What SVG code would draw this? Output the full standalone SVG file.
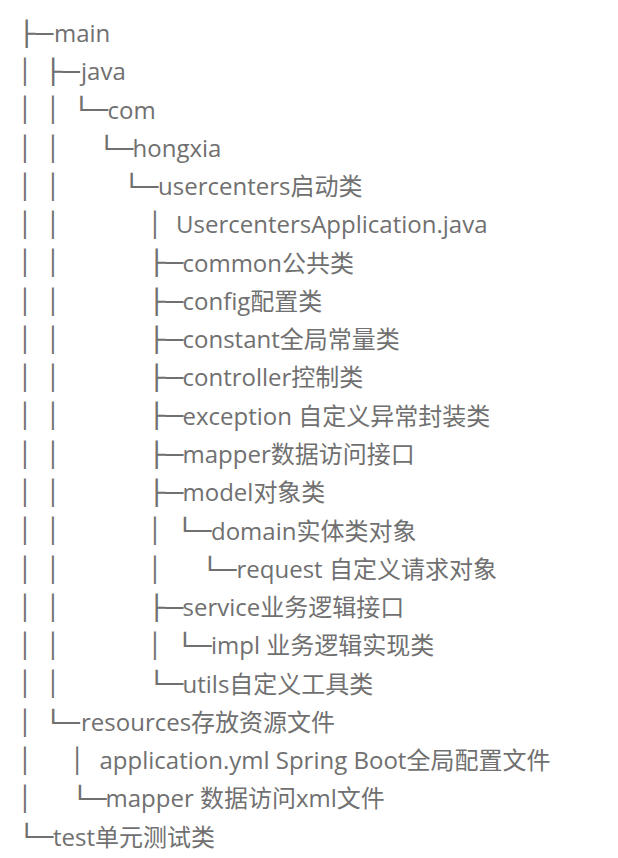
<svg xmlns="http://www.w3.org/2000/svg" width="618" height="858" viewBox="0 0 618 858">
<style>
.t{font-family:"Open Sans","Noto Sans CJK SC",sans-serif;font-size:24px;fill:#707070}
.c{font-family:"DejaVu Sans Mono",monospace;font-size:24px;fill:#707070}
</style>
<rect width="618" height="858" fill="#ffffff"/>
<g id="connectors" class="c">
<text x="17.9" y="41.7" textLength="35.07" lengthAdjust="spacingAndGlyphs">├─</text>
<text x="17.8" y="80">│</text><text x="44.5" y="80" textLength="35.07" lengthAdjust="spacingAndGlyphs">├─</text>
<text x="17.8" y="118.2">│</text><text x="45.8" y="118.2">│</text><text x="72.7" y="118.2" textLength="35.07" lengthAdjust="spacingAndGlyphs">└─</text>
<text x="17.8" y="156.5">│</text><text x="45.8" y="156.5">│</text><text x="97.9" y="156.5" textLength="35.07" lengthAdjust="spacingAndGlyphs">└─</text>
<text x="17.8" y="194.8">│</text><text x="45.8" y="194.8">│</text><text x="122.9" y="194.8" textLength="35.07" lengthAdjust="spacingAndGlyphs">└─</text>
<text x="17.8" y="233.1">│</text><text x="45.8" y="233.1">│</text><text x="147.8" y="233.1">│</text>
<text x="17.8" y="271.3">│</text><text x="45.8" y="271.3">│</text><text x="147.9" y="271.3" textLength="35.07" lengthAdjust="spacingAndGlyphs">├─</text>
<text x="17.8" y="309.6">│</text><text x="45.8" y="309.6">│</text><text x="147.9" y="309.6" textLength="35.07" lengthAdjust="spacingAndGlyphs">├─</text>
<text x="17.8" y="347.9">│</text><text x="45.8" y="347.9">│</text><text x="147.9" y="347.9" textLength="35.07" lengthAdjust="spacingAndGlyphs">├─</text>
<text x="17.8" y="386.1">│</text><text x="45.8" y="386.1">│</text><text x="147.9" y="386.1" textLength="35.07" lengthAdjust="spacingAndGlyphs">├─</text>
<text x="17.8" y="424.4">│</text><text x="45.8" y="424.4">│</text><text x="147.9" y="424.4" textLength="35.07" lengthAdjust="spacingAndGlyphs">├─</text>
<text x="17.8" y="462.7">│</text><text x="45.8" y="462.7">│</text><text x="147.9" y="462.7" textLength="35.07" lengthAdjust="spacingAndGlyphs">├─</text>
<text x="17.8" y="500.9">│</text><text x="45.8" y="500.9">│</text><text x="147.9" y="500.9" textLength="35.07" lengthAdjust="spacingAndGlyphs">├─</text>
<text x="17.8" y="539.2">│</text><text x="45.8" y="539.2">│</text><text x="147.8" y="539.2">│</text><text x="176.2" y="539.2" textLength="35.07" lengthAdjust="spacingAndGlyphs">└─</text>
<text x="17.8" y="577.5">│</text><text x="45.8" y="577.5">│</text><text x="147.8" y="577.5">│</text><text x="201.2" y="577.5" textLength="35.07" lengthAdjust="spacingAndGlyphs">└─</text>
<text x="17.8" y="615.8">│</text><text x="45.8" y="615.8">│</text><text x="147.9" y="615.8" textLength="35.07" lengthAdjust="spacingAndGlyphs">├─</text>
<text x="17.8" y="654">│</text><text x="45.8" y="654">│</text><text x="147.8" y="654">│</text><text x="176.2" y="654" textLength="35.07" lengthAdjust="spacingAndGlyphs">└─</text>
<text x="17.8" y="692.3">│</text><text x="45.8" y="692.3">│</text><text x="147.9" y="692.3" textLength="35.07" lengthAdjust="spacingAndGlyphs">└─</text>
<text x="17.8" y="730.6">│</text><text x="44.5" y="730.6" textLength="35.07" lengthAdjust="spacingAndGlyphs">└─</text>
<text x="17.8" y="768.8">│</text><text x="70.1" y="768.8">│</text>
<text x="17.8" y="807.1">│</text><text x="71.2" y="807.1" textLength="35.07" lengthAdjust="spacingAndGlyphs">└─</text>
<text x="17.9" y="845.4" textLength="35.07" lengthAdjust="spacingAndGlyphs">└─</text>
</g>
<g id="n-main"><text class="t" x="54" y="42">main</text></g>
<g id="n-java"><text class="t" x="81" y="80.3">java</text></g>
<g id="n-com"><text class="t" x="107.5" y="118.5">com</text></g>
<g id="n-hongxia"><text class="t" x="132.5" y="156.8">hongxia</text></g>
<g id="n-usercenters"><text class="t" x="158" y="195.1">usercenters启动类</text></g>
<g id="n-app"><text class="t" x="176" y="233.4">UsercentersApplication.java</text></g>
<g id="n-common"><text class="t" x="182.5" y="271.6">common公共类</text></g>
<g id="n-config"><text class="t" x="182.5" y="309.9">config配置类</text></g>
<g id="n-constant"><text class="t" x="182.5" y="348.2">constant全局常量类</text></g>
<g id="n-controller"><text class="t" x="182.5" y="386.4">controller控制类</text></g>
<g id="n-exception"><text class="t" x="182.5" y="424.7">exception 自定义异常封装类</text></g>
<g id="n-mapper"><text class="t" x="182.5" y="463">mapper数据访问接口</text></g>
<g id="n-model"><text class="t" x="182.5" y="501.2">model对象类</text></g>
<g id="n-domain"><text class="t" x="211" y="539.5">domain实体类对象</text></g>
<g id="n-request"><text class="t" x="236.5" y="577.8">request 自定义请求对象</text></g>
<g id="n-service"><text class="t" x="182.5" y="616.1">service业务逻辑接口</text></g>
<g id="n-impl"><text class="t" x="211" y="654.3">impl 业务逻辑实现类</text></g>
<g id="n-utils"><text class="t" x="182.5" y="692.6">utils自定义工具类</text></g>
<g id="n-resources"><text class="t" x="81" y="730.9">resources存放资源文件</text></g>
<g id="n-yml"><text class="t" x="99.5" y="769.1">application.yml Spring Boot全局配置文件</text></g>
<g id="n-mapperxml"><text class="t" x="105.5" y="807.4">mapper 数据访问xml文件</text></g>
<g id="n-test"><text class="t" x="53" y="845.7">test单元测试类</text></g>
</svg>
